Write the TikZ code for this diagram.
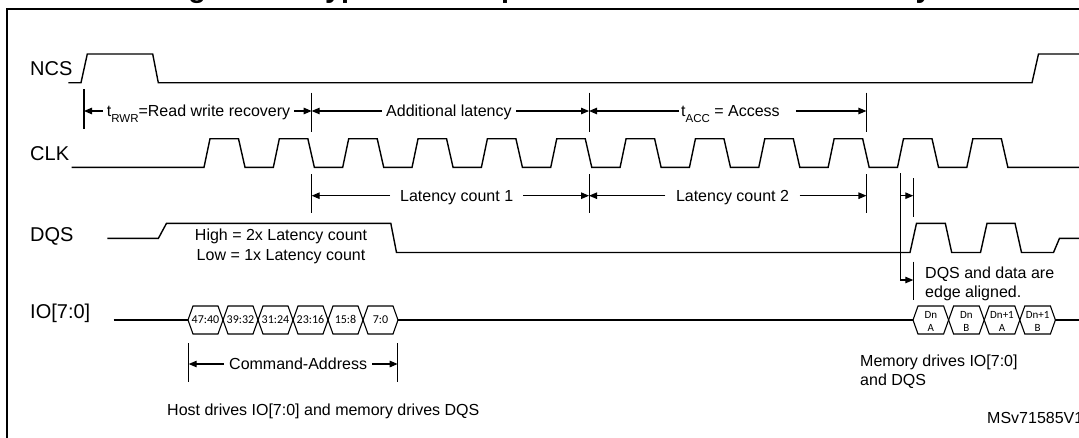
\documentclass[tikz,border=0pt]{standalone}
\usepackage{fontspec}
\setmainfont{Liberation Sans}
\newfontfamily\cellfont{Carlito}
\usetikzlibrary{arrows.meta}
\begin{document}
\begin{tikzpicture}[x=1pt,y=-1pt,
  sig/.style={line width=1.4pt, line join=miter},
  tickline/.style={line width=1.1pt},
  dim/.style={line width=1.1pt, -{Triangle[length=8pt,width=6.5pt]}},
  frameline/.style={line width=2.2pt},
  lbl/.style={font=\fontsize{20}{24}\selectfont, anchor=base west, inner sep=0pt},
  ann/.style={font=\fontsize{16}{19}\selectfont, inner ysep=0pt},
  cell/.style={line width=1.1pt},
  celltxt/.style={font=\cellfont\fontsize{12}{12}\selectfont, inner sep=0pt},
  celltxtb/.style={font=\cellfont\fontsize{11}{12.5}\selectfont, inner sep=0pt, align=center},
]
\useasboundingbox (0,0) rectangle (1079,437);
\fill[white] (0,0) rectangle (1079,437);

% cut title
\node[font=\bfseries\fontsize{28.8}{30}\selectfont, anchor=base west, inner sep=0pt] (title)
  at (162.6,-3) {Figure 14. Typical read operation with additional latency};

% frame
\draw[frameline] (6.7,450) -- (6.7,9.3) -- (1090,9.3);

% signal labels
\node[lbl] (lncs) at (30,75) {NCS};
\node[lbl] (lclk) at (30,160.5) {CLK};
\node[lbl] (ldqs) at (30,241) {DQS};
\node[lbl] (lio) at (30,318.5) {IO[7:0]};

% NCS
\draw[sig] (68.3,82.7) -- (81,82.7) -- (87.3,54) -- (152.7,54) -- (158.3,82.7)
  -- (1032,82.7) -- (1038.5,54) -- (1090,54);

% CLK
\draw[sig] (71.7,167.3) foreach \k in {0,...,11} {
   -- ({204+69.35*\k},167.3) -- ({210+69.35*\k},138.7)
   -- ({238.5+69.35*\k},138.7) -- ({245+69.35*\k},167.3) } -- (1090,167.3);

% DQS
\draw[sig] (107.4,238.3) -- (158.4,238.3) -- (166.5,223.3) -- (390.8,223.3)
  -- (396.5,252.5) -- (910,252.5) -- (916.5,223.3) -- (945.3,223.3)
  -- (951.7,252.5) -- (980.5,252.5) -- (987,223.3) -- (1015,223.3)
  -- (1021.5,252.5) -- (1053.5,252.5) -- (1059.5,238.3) -- (1090,238.3);

% IO bus
\draw[sig] (113.6,320) -- (188,320);
\draw[sig] (398,320) -- (913,320);
\draw[sig] (1055.4,320) -- (1090,320);
\foreach \a/\b/\t [count=\i] in {188/223/47:40, 223/258/39:32, 258/293/31:24,
    293/328/23:16, 328/363/15:8, 363/398/7:0} {
  \draw[cell] (\a,320) -- (\a+5,306) -- (\b-5,306) -- (\b,320) -- (\b-5,334) -- (\a+5,334) -- cycle;
  \node[celltxt] (c\i) at ({(\a+\b)/2},319.5) {\t};
}
\foreach \a/\b/\t/\u [count=\i] in {913/948.6/Dn/A, 948.6/984.2/Dn/B,
    984.2/1019.8/Dn+1/A, 1019.8/1055.4/Dn+1/B} {
  \draw[cell] (\a,320) -- (\a+5,306) -- (\b-5,306) -- (\b,320) -- (\b-5,334) -- (\a+5,334) -- cycle;
  \node[celltxtb] (d\i) at ({(\a+\b)/2},321.5) {\t\\\u};
}

% tick coordinates
\coordinate (tA) at (84,111);
\coordinate (tB) at (311.65,111);
\coordinate (tC) at (589.05,111);
\coordinate (tD) at (866.45,111);
\coordinate (lB) at (311.65,195.7);
\coordinate (lC) at (589.05,195.7);
\coordinate (lD) at (866.45,195.7);
\coordinate (cA) at (188.7,364);
\coordinate (cB) at (397.7,364);
\coordinate (vtop) at (900.6,173);
\coordinate (q1) at (913.3,195.7);
\coordinate (q2) at (913.3,280);

% ticks
\draw[tickline] (84,89.3) -- (84,129.3);
\foreach \x in {311.65,589.05,866.45} {
  \draw[tickline] (\x,92.7) -- (\x,131.7);
  \draw[tickline] (\x,174) -- (\x,213.3);
}
\draw[tickline] (188.7,343.3) -- (188.7,381.7);
\draw[tickline] (397.7,343.3) -- (397.7,381.7);
\draw[tickline] (913.3,178.3) -- (913.3,216.7);
\draw[tickline] (913.3,261.7) -- (913.3,300);

% dimension texts
\node[ann, anchor=base west, inner xsep=4pt] (trwr) at (102.7,116.5)
  {t\raisebox{-6pt}{\fontsize{11.5}{12}\selectfont RWR}=Read write recovery};
\node[ann, anchor=base west, inner xsep=4.3pt] (addl) at (381.7,116.5) {Additional latency};
\node[ann, anchor=base west, inner xsep=2pt] (tacc) at (679,116.5)
  {t\raisebox{-6pt}{\fontsize{11.5}{12}\selectfont ACC} = Access\rule{14pt}{0pt}};
\node[ann, anchor=base west, inner xsep=10pt] (lc1) at (390,201.5) {Latency count 1};
\node[ann, anchor=base west, inner xsep=10.5pt] (lc2) at (665.3,201.5) {Latency count 2};
\node[ann, anchor=base west, inner xsep=5pt] (cmd) at (224,369.5) {Command-Address};

% dimension arrows
\draw[dim] (trwr.west |- tA) -- (tA);
\draw[dim] (trwr.east |- tB) -- (tB);
\draw[dim] (addl.west |- tB) -- (tB);
\draw[dim] (addl.east |- tC) -- (tC);
\draw[dim] (tacc.west |- tC) -- (tC);
\draw[dim] (tacc.east |- tD) -- (tD);
\draw[dim] (lc1.west |- lB) -- (lB);
\draw[dim] (lc1.east |- lC) -- (lC);
\draw[dim] (lc2.west |- lC) -- (lC);
\draw[dim] (lc2.east |- lD) -- (lD);
\draw[dim] (cmd.west |- cA) -- (cA);
\draw[dim] (cmd.east |- cB) -- (cB);
\draw[dim] (vtop) |- (q2);
\draw[dim] (vtop |- q1) -- (q1);

% other annotations
\node[ann, anchor=base, inner sep=0pt] (hi) at (281,240) {High = 2x Latency count};
\node[ann, anchor=base, inner sep=0pt] (lo) at (281,260) {Low = 1x Latency count};
\node[ann, anchor=base west, inner sep=0pt] (al1) at (925,278.3) {DQS and data are};
\node[ann, anchor=base west, inner sep=0pt] (al2) at (925,297.3) {edge aligned.};
\node[ann, anchor=base west, inner sep=0pt] (mem1) at (860,366.7) {Memory drives IO[7:0]};
\node[ann, anchor=base west, inner sep=0pt] (mem2) at (860,385) {and DQS};
\node[ann, anchor=base west, inner sep=0pt] (host) at (167,415) {Host drives IO[7:0] and memory drives DQS};
\node[ann, anchor=base west, inner sep=0pt] (ms) at (987,423.3) {MSv71585V1};
\end{tikzpicture}
\end{document}
